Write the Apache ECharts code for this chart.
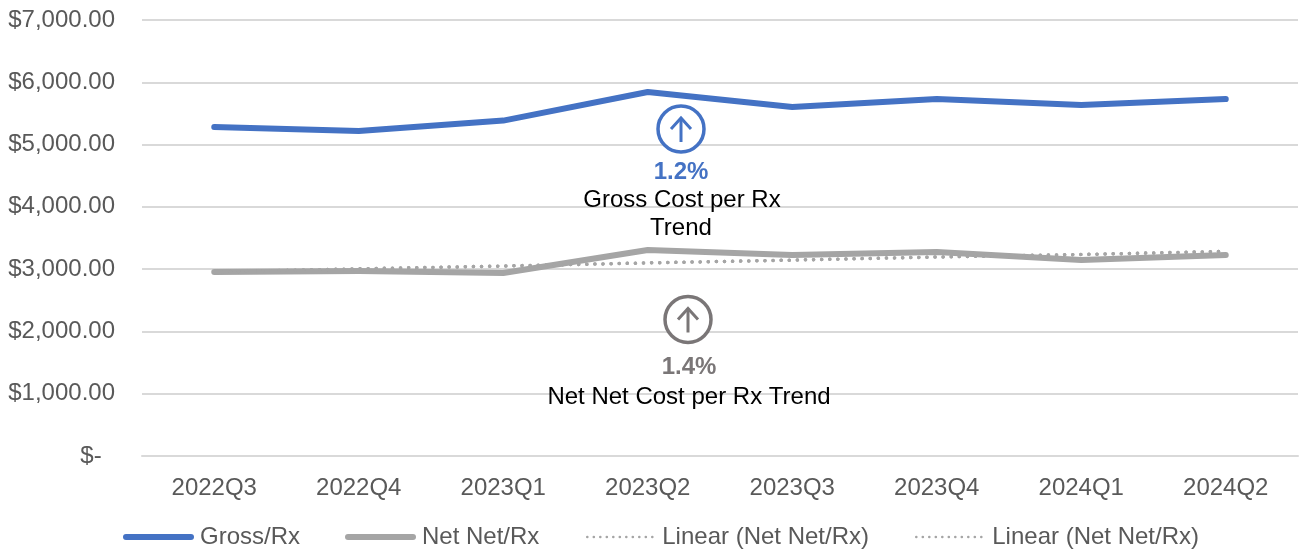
<!DOCTYPE html>
<html><head><meta charset="utf-8">
<style>html,body{margin:0;padding:0;background:#fff}#c{width:1301px;height:550px}</style>
<script src="https://cdn.jsdelivr.net/npm/echarts@6/dist/echarts.min.js"></script></head>
<body><div id="c"></div>
<script>
const categories = ['2022Q3','2022Q4','2023Q1','2023Q2','2023Q3','2023Q4','2024Q1','2024Q2'];
const grossRx = [5281,5217,5385,5843,5602,5730,5634,5730];
const netNetRx = [2953,2970,2937,3307,3226,3274,3146,3226];
const netTrendA = [2955,3005,3050,3100,3145,3195,3235,3285];
const netTrendB = [2955,3005,3050,3100,3145,3195,3235,3285];
const FONT = '"Liberation Sans", Arial, sans-serif';
const BLUE = '#4472C4', GREY = '#A5A5A5', ICON = '#7A7677', TXT = '#595959';

function icon(cx, cy, r, color){
  const ls = {stroke:color, lineWidth:3, fill:null};
  return [
    {type:'circle', shape:{cx, cy, r}, style:{...ls, lineWidth:3.5, fill:'#fff'}, z:20},
    {type:'polyline', shape:{points:[[cx,cy+13],[cx,cy-11]]}, style:ls, z:21},
    {type:'polyline', shape:{points:[[cx-10,cy],[cx,cy-11],[cx+10,cy]]}, style:ls, z:21}
  ];
}
function label(cx, y, text, color, bold){
  return {type:'text', x:cx, y, z:22, style:{text, fill:color, font:(bold?'bold ':'')+'24px '+FONT, align:'center', verticalAlign:'middle'}};
}
const chart = echarts.init(document.getElementById('c'), null, {renderer:'canvas'});
const lineBase = {type:'line', symbol:'none', smooth:false};
const thick = {width:6, cap:'round'};
const dotted = {width:2.5, type:[0.1,6.4], cap:'round'};
function legendItem(left, itemWidth, name, lineStyle, textPad){
  return {top:525, left, itemWidth, itemHeight:6, padding:0,
    itemStyle:{opacity:0},
    textStyle:{color:TXT, fontFamily:FONT, fontSize:24, padding:[0,0,0,textPad]},
    data:[{name, lineStyle}]};
}
chart.setOption({
  animation:false,
  backgroundColor:'#fff',
  grid:{left:142, right:3, top:20, bottom:94, containLabel:false},
  xAxis:{type:'category', data:categories, boundaryGap:true,
    axisLine:{lineStyle:{color:'#D9D9D9', width:2}}, axisTick:{show:false},
    axisLabel:{color:TXT, fontFamily:FONT, fontSize:24, margin:20}},
  yAxis:{type:'value', min:0, max:7000, interval:1000,
    axisLine:{show:false}, axisTick:{show:false},
    splitLine:{lineStyle:{color:'#D9D9D9', width:2}},
    axisLabel:{color:TXT, fontFamily:FONT, fontSize:24, margin:27, align:'right', padding:[7,0,0,0],
      formatter:v => v === 0 ? '$-  ' : '$' + v.toLocaleString('en-US',{minimumFractionDigits:2})}},
  legend:[
    legendItem(123, 65, 'Gross/Rx', thick, 4),
    legendItem(345, 65, 'Net Net/Rx', thick, 4),
    legendItem(586, 67, 'Linear (Net Net/Rx)', dotted, 3),
    legendItem(915, 67, 'Linear (Net Net/Rx)', dotted, 4)
  ],
  series:[
    {...lineBase, name:'Gross/Rx', data:grossRx, lineStyle:{color:BLUE, width:6, cap:'round', join:'round'}, itemStyle:{color:BLUE}, z:3},
    {...lineBase, name:'Net Net/Rx', data:netNetRx, lineStyle:{color:GREY, width:6, cap:'round', join:'round'}, itemStyle:{color:GREY}, z:3},
    {...lineBase, name:'Linear (Net Net/Rx)', data:netTrendA, lineStyle:{color:GREY, width:3.5, type:[0.1,8], cap:'round'}, itemStyle:{color:GREY}, z:4},
    {...lineBase, name:'Linear (Net Net/Rx)', data:netTrendB, lineStyle:{color:GREY, width:3.5, type:[0.1,8], cap:'round'}, itemStyle:{color:GREY}, z:4}
  ],
  graphic:[
    ...icon(681,129,23,BLUE),
    label(681,172.5,'1.2%',BLUE,true),
    label(682,200,'Gross Cost per Rx','#000',false),
    label(681,228,'Trend','#000',false),
    ...icon(688,319.5,23,ICON),
    label(689,367.5,'1.4%',ICON,true),
    label(689,397.5,'Net Net Cost per Rx Trend','#000',false)
  ]
});
</script></body></html>
